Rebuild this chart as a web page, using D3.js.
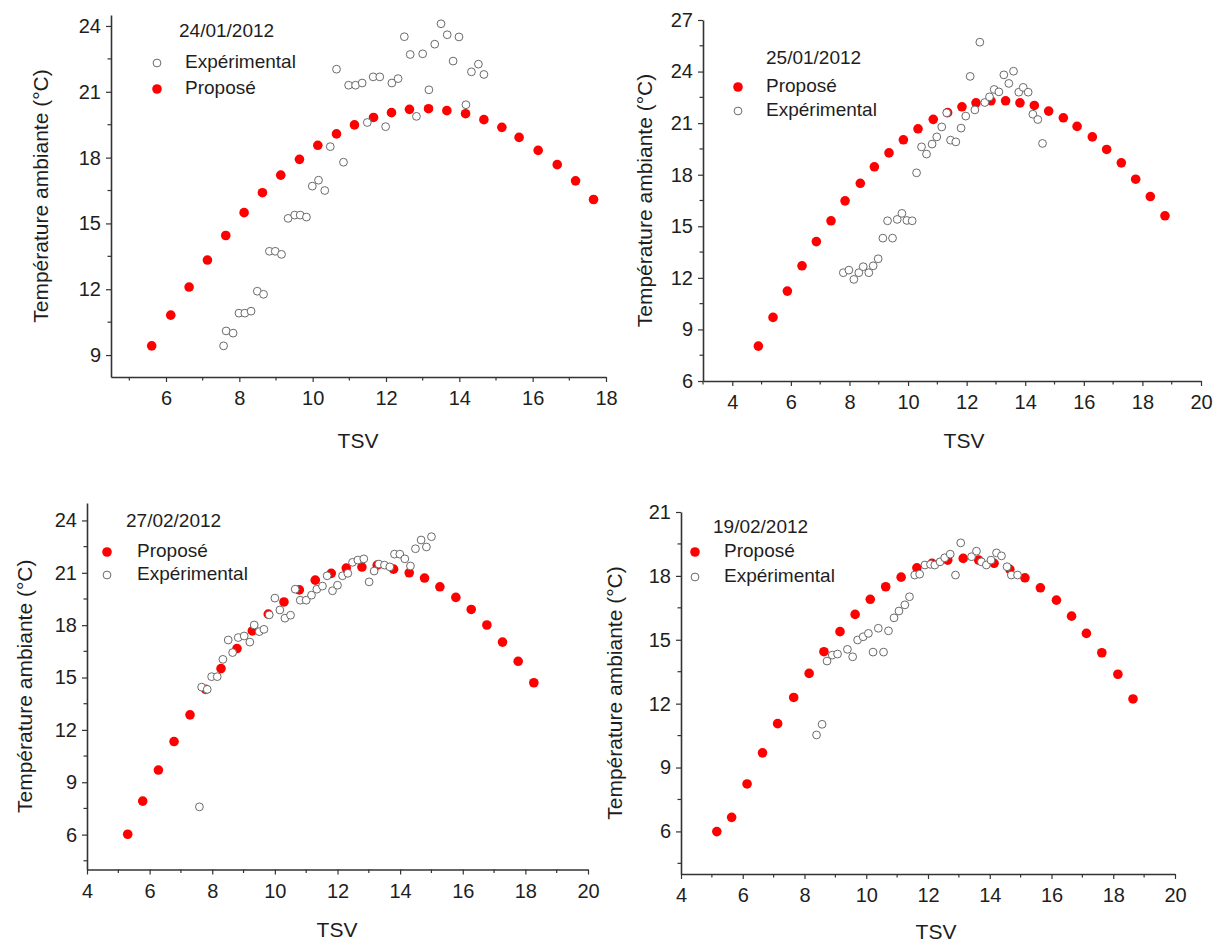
<!DOCTYPE html>
<html><head><meta charset="utf-8">
<script src="https://cdn.jsdelivr.net/npm/d3@7"></script>
<style>
body{margin:0;background:#fff;}
svg{display:block;font-family:"Liberation Sans",Arial,sans-serif;}
</style></head>
<body>
<svg id="chart" width="1220" height="943"></svg>
<script>
// ---------- DATA ----------
const dates = ["24/01/2012", "25/01/2012", "27/02/2012", "19/02/2012"];
const seriesNames = ["Proposé", "Expérimental"];
const xTitle = "TSV";
const yTitle = "Température ambiante (°C)";

// Panel 1 : 24/01/2012
const prop1 = [[5.61,9.42],[6.13,10.82],[6.63,12.10],[7.13,13.33],[7.63,14.45],[8.13,15.49],[8.63,16.40],[9.13,17.20],[9.64,17.92],[10.14,18.56],[10.65,19.08],[11.14,19.49],[11.66,19.83],[12.15,20.05],[12.64,20.20],[13.16,20.23],[13.66,20.14],[14.17,20.0],[14.67,19.73],[15.16,19.38],[15.63,18.92],[16.15,18.33],[16.67,17.68],[17.17,16.94],[17.66,16.09]];
const exp1 = [[7.57,9.42],[7.64,10.10],[7.83,10.0],[7.99,10.91],[8.15,10.91],[8.32,11.0],[8.49,11.91],[8.66,11.77],[8.82,13.73],[8.98,13.73],[9.15,13.59],[9.33,15.23],[9.51,15.38],[9.66,15.38],[9.83,15.29],[9.99,16.70],[10.16,16.97],[10.33,16.5],[10.48,18.5],[10.84,17.79],[10.65,22.03],[10.98,21.30],[11.17,21.30],[11.35,21.40],[11.49,19.6],[11.65,21.68],[11.83,21.68],[11.99,19.41],[12.16,21.40],[12.33,21.6],[12.50,23.51],[12.66,22.70],[12.83,19.88],[13.0,22.73],[13.17,21.09],[13.33,23.17],[13.50,24.1],[13.67,23.6],[13.83,22.4],[13.99,23.5],[14.18,20.41],[14.33,21.91],[14.52,22.26],[14.67,21.79]];

// Panel 2 : 25/01/2012
const prop2 = [[4.89,8.03],[5.39,9.70],[5.88,11.23],[6.38,12.70],[6.87,14.11],[7.37,15.32],[7.85,16.48],[8.37,17.50],[8.85,18.46],[9.35,19.27],[9.84,20.03],[10.34,20.67],[10.86,21.22],[11.35,21.61],[11.84,21.95],[12.32,22.18],[12.83,22.30],[13.33,22.30],[13.82,22.18],[14.31,22.03],[14.80,21.70],[15.30,21.31],[15.77,20.81],[16.29,20.20],[16.78,19.47],[17.28,18.69],[17.77,17.74],[18.27,16.73],[18.77,15.61]];
const exp2 = [[7.79,12.30],[7.98,12.45],[8.15,11.91],[8.32,12.30],[8.47,12.65],[8.66,12.30],[8.81,12.70],[8.98,13.11],[9.14,14.31],[9.47,14.31],[9.30,15.32],[9.63,15.40],[9.79,15.75],[9.96,15.34],[10.14,15.32],[10.29,18.11],[10.46,19.62],[10.63,19.20],[10.82,19.78],[10.98,20.20],[11.15,20.78],[11.32,21.60],[11.45,20.01],[11.63,19.91],[11.81,20.71],[11.97,21.41],[12.12,23.72],[12.28,21.77],[12.45,25.71],[12.62,22.20],[12.78,22.53],[12.94,22.96],[13.10,22.82],[13.27,23.81],[13.44,23.31],[13.60,24.02],[13.78,22.80],[13.93,23.08],[14.10,22.80],[14.26,21.52],[14.43,21.21],[14.59,19.82]];

// Panel 3 : 27/02/2012
const prop3 = [[5.30,6.02],[5.78,7.92],[6.28,9.70],[6.78,11.33],[7.29,12.86],[7.79,14.32],[8.28,15.51],[8.79,16.66],[9.28,17.67],[9.79,18.63],[10.29,19.33],[10.78,20.02],[11.29,20.58],[11.80,20.97],[12.28,21.27],[12.78,21.33],[13.27,21.44],[13.79,21.21],[14.29,21.0],[14.78,20.70],[15.27,20.20],[15.78,19.59],[16.27,18.90],[16.77,18.01],[17.27,17.03],[17.77,15.93],[18.27,14.70]];
const exp3 = [[7.59,7.59],[7.66,14.45],[7.84,14.32],[7.98,15.05],[8.16,15.05],[8.34,16.04],[8.51,17.15],[8.65,16.43],[8.83,17.29],[9.02,17.38],[9.20,17.03],[9.34,18.01],[9.50,17.63],[9.65,17.76],[9.82,18.59],[10.00,19.55],[10.16,18.87],[10.32,18.40],[10.50,18.57],[10.65,20.06],[10.81,19.43],[11.00,19.43],[11.17,19.72],[11.34,20.06],[11.52,20.24],[11.67,20.83],[11.84,19.97],[12.00,20.29],[12.16,20.83],[12.33,20.97],[12.48,21.60],[12.65,21.73],[12.84,21.80],[13.01,20.48],[13.17,21.10],[13.32,21.50],[13.50,21.44],[13.67,21.34],[13.82,22.07],[13.99,22.07],[14.15,21.80],[14.33,21.39],[14.49,22.38],[14.67,22.88],[14.84,22.48],[15.00,23.07]];

// Panel 4 : 19/02/2012
const prop4 = [[5.16,5.99],[5.64,6.66],[6.14,8.23],[6.64,9.69],[7.13,11.06],[7.65,12.29],[8.15,13.42],[8.63,14.44],[9.15,15.38],[9.64,16.19],[10.13,16.90],[10.63,17.49],[11.13,17.94],[11.64,18.38],[12.13,18.59],[12.64,18.74],[13.14,18.82],[13.64,18.74],[14.14,18.59],[14.65,18.31],[15.14,17.91],[15.64,17.44],[16.16,16.86],[16.65,16.11],[17.13,15.30],[17.63,14.39],[18.15,13.38],[18.64,12.22]];
const exp4 = [[8.39,10.53],[8.57,11.03],[8.73,14.0],[8.90,14.28],[9.07,14.33],[9.39,14.55],[9.56,14.20],[9.72,14.99],[9.90,15.14],[10.07,15.30],[10.22,14.42],[10.56,14.42],[10.39,15.54],[10.72,15.42],[10.90,16.03],[11.06,16.35],[11.25,16.64],[11.40,17.02],[11.57,18.04],[11.73,18.08],[11.90,18.51],[12.08,18.54],[12.22,18.51],[12.39,18.66],[12.54,18.85],[12.72,19.02],[12.89,18.04],[13.06,19.55],[13.41,18.90],[13.57,19.16],[13.73,18.66],[13.89,18.51],[14.04,18.74],[14.22,19.08],[14.38,18.94],[14.56,18.43],[14.70,18.04],[14.90,18.04]];

// axis domains and ticks
const xDomains = [[4.5,18],[3,20],[4,20],[4,20]];
const yDomains = [[8,24.5],[6,27],[4,25],[4,21]];
const xTicks1 = [6,8,10,12,14,16,18];
const xTicks2 = [4,6,8,10,12,14,16,18,20];
const yTicks1 = [9,12,15,18,21,24];
const yTicks2 = [6,9,12,15,18,21,24,27];
const yTicks3 = [6,9,12,15,18,21,24];
const yTicks4 = [6,9,12,15,18,21];

// ---------- LAYOUT ----------
const panels = [
  {date:dates[0], prop:prop1, exp:exp1, xd:xDomains[0], yd:yDomains[0], xt:xTicks1, yt:yTicks1,
   box:{l:111,r:606,t:15,b:377}, yTitleX:42, xTitleX:358, xTitleY:448,
   leg:{tx:179, ty:32, mx:157, lx:185, rows:[["exp",63],["prop",89]]}},
  {date:dates[1], prop:prop2, exp:exp2, xd:xDomains[1], yd:yDomains[1], xt:xTicks2, yt:yTicks2,
   box:{l:703,r:1201,t:20,b:381}, yTitleX:646, xTitleX:964, xTitleY:448,
   leg:{tx:766, ty:59, mx:738, lx:766, rows:[["prop",87],["exp",111]]}},
  {date:dates[2], prop:prop3, exp:exp3, xd:xDomains[2], yd:yDomains[2], xt:xTicks2, yt:yTicks3,
   box:{l:87,r:588,t:503,b:869.5}, yTitleX:26, xTitleX:337, xTitleY:937,
   leg:{tx:126, ty:522, mx:107, lx:137, rows:[["prop",552],["exp",575]]}},
  {date:dates[3], prop:prop4, exp:exp4, xd:xDomains[3], yd:yDomains[3], xt:xTicks2, yt:yTicks4,
   box:{l:681,r:1175,t:512,b:874}, yTitleX:616, xTitleX:936, xTitleY:939,
   leg:{tx:713, ty:528, mx:695, lx:724, rows:[["prop",552],["exp",577]]}}
];

const svg = d3.select("#chart");
const RED = "#ff0000", GREY = "#6a6a6a", TXT = "#1e1e1e";
const rProp = 4.8, rExp = 3.9;

panels.forEach(p => {
  const g = svg.append("g");
  const x = d3.scaleLinear().domain(p.xd).range([p.box.l, p.box.r]);
  const y = d3.scaleLinear().domain(p.yd).range([p.box.b, p.box.t]);

  // minor ticks
  const xMinor = d3.range(Math.ceil(p.xd[0]), p.xd[1] + 0.001, 1).filter(v => v % 2 !== 0);
  const yMinor = p.yt.map(v => v + 1.5).concat([p.yt[0] - 1.5]).filter(v => v >= p.yd[0] && v <= p.yd[1]);

  const xAxis = g.append("g").attr("transform", `translate(0,${p.box.b})`)
    .call(d3.axisBottom(x).tickValues(p.xt).tickSize(5).tickPadding(9).tickSizeOuter(0));
  xAxis.append("g").selectAll("line").data(xMinor).join("line")
    .attr("x1", d => x(d)).attr("x2", d => x(d)).attr("y1", 0).attr("y2", 3.5);

  const yAxis = g.append("g").attr("transform", `translate(${p.box.l},0)`)
    .call(d3.axisLeft(y).tickValues(p.yt).tickSize(5).tickPadding(5).tickSizeOuter(0));
  yAxis.append("g").selectAll("line").data(yMinor).join("line")
    .attr("y1", d => y(d)).attr("y2", d => y(d)).attr("x1", 0).attr("x2", -3.5);

  [xAxis, yAxis].forEach(a => {
    a.selectAll("path.domain").attr("stroke", "#333").attr("stroke-width", 1.6);
    a.selectAll("line").attr("stroke", "#333").attr("stroke-width", 1.2);
    a.selectAll("text").attr("fill", TXT).style("font-size", "20px");
  });

  // axis titles
  g.append("text").attr("x", p.xTitleX).attr("y", p.xTitleY).attr("text-anchor", "middle")
    .style("font-size", "21px").attr("fill", TXT).text(xTitle);
  const cy = (p.box.t + p.box.b) / 2;
  g.append("text").attr("transform", `translate(${p.yTitleX},${cy}) rotate(-90)`)
    .attr("text-anchor", "middle").attr("dominant-baseline", "middle")
    .style("font-size", "21px").attr("fill", TXT).text(yTitle);

  // marks
  g.append("g").selectAll("circle").data(p.prop).join("circle")
    .attr("cx", d => x(d[0])).attr("cy", d => y(d[1])).attr("r", rProp).attr("fill", RED);
  g.append("g").selectAll("circle").data(p.exp).join("circle")
    .attr("cx", d => x(d[0])).attr("cy", d => y(d[1])).attr("r", rExp)
    .attr("fill", "#fff").attr("stroke", GREY).attr("stroke-width", 1);

  // legend
  g.append("text").attr("x", p.leg.tx).attr("y", p.leg.ty).attr("dominant-baseline", "middle")
    .style("font-size", "19px").attr("fill", TXT).text(p.date);
  p.leg.rows.forEach(([k, yy]) => {
    if (k === "prop") {
      g.append("circle").attr("cx", p.leg.mx).attr("cy", yy).attr("r", rProp).attr("fill", RED);
    } else {
      g.append("circle").attr("cx", p.leg.mx).attr("cy", yy).attr("r", rExp)
        .attr("fill", "#fff").attr("stroke", GREY).attr("stroke-width", 1);
    }
    g.append("text").attr("x", p.leg.lx).attr("y", yy).attr("dominant-baseline", "middle")
      .style("font-size", "19px").attr("fill", TXT).text(k === "prop" ? seriesNames[0] : seriesNames[1]);
  });
});
</script>
</body></html>
